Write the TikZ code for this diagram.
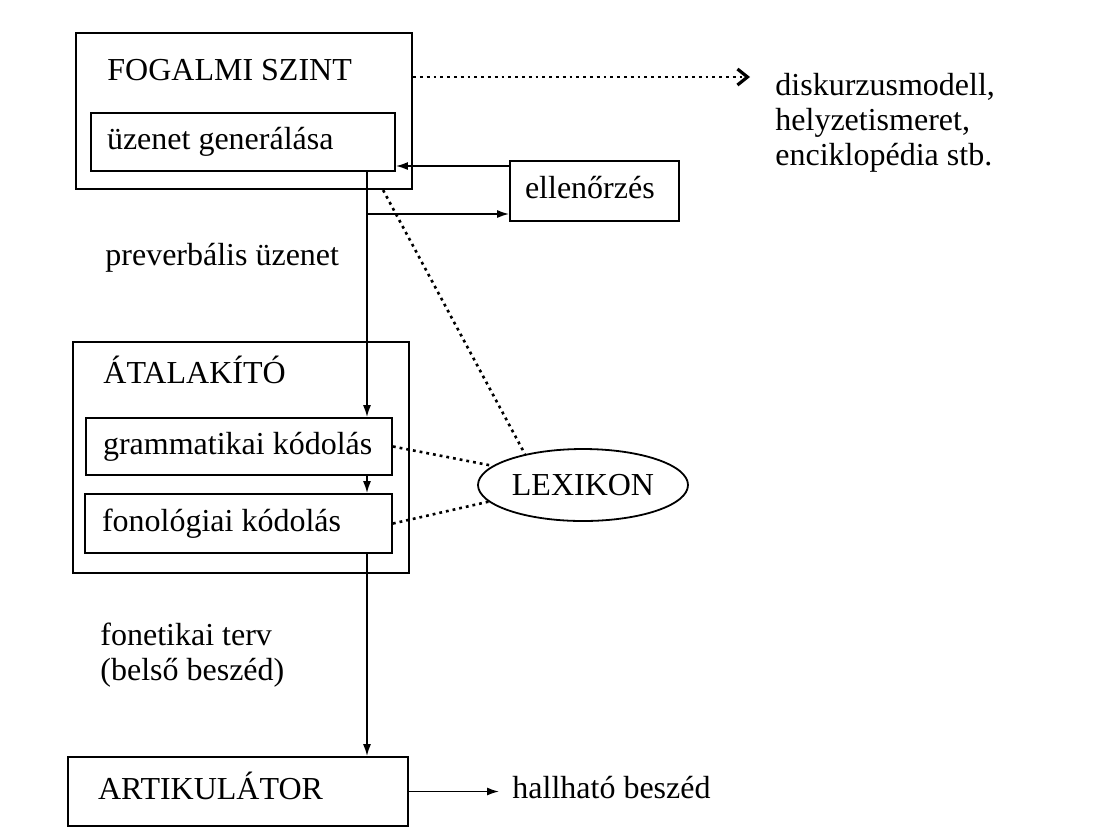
\documentclass[tikz,border=0pt]{standalone}
\usepackage{fontspec}
\setmainfont{Liberation Serif}
\usetikzlibrary{arrows.meta,shapes.geometric}
\begin{document}
\begin{tikzpicture}[x=0.5pt,y=-0.5pt,
    every node/.style={font=\fontsize{16}{17.5}\selectfont},
    keret/.style={draw,line width=1.1pt,rectangle,inner sep=0pt},
    doboz/.style={draw,line width=0.9pt,rectangle,align=flush left,inner ysep=0pt,text height=11pt,text depth=3.5pt},
    felirat/.style={inner sep=0pt,align=flush left},
    nyil/.style={line width=0.8pt,-{Latex[length=6pt,width=4pt]}},
    pontozott/.style={line width=1.3pt,dash pattern=on 1.4pt off 2pt}]
    \useasboundingbox (0,0) rectangle (1107,836);
    % outer frames
    \node[keret,minimum width=168pt,minimum height=78pt] (fog) at (244,111) {};
    \node[keret,minimum width=168pt,minimum height=115.5pt] (atal) at (241,457.5) {};
    \node[felirat,anchor=base west] (fogcim) at (107,80) {FOGALMI SZINT};
    \node[felirat,anchor=base west] (atalcim) at (103,383) {ÁTALAKÍTÓ};
    % boxes
    \node[doboz,minimum width=152pt,minimum height=29pt,inner xsep=8pt,text width=136pt] (gen) at (243,142) {üzenet generálása};
    \node[doboz,minimum width=84.5pt,minimum height=30pt,inner xsep=7.5pt,text width=69.5pt] (ell) at (594.5,191) {ellenőrzés};
    \node[doboz,minimum width=153pt,minimum height=28.5pt,inner xsep=8.5pt,text width=136pt] (gram) at (239,446.5) {grammatikai kódolás};
    \node[doboz,minimum width=153.5pt,minimum height=29.5pt,inner xsep=8.5pt,text width=136.5pt] (fon) at (238.5,523.5) {fonológiai kódolás};
    \node[doboz,minimum width=170pt,minimum height=34.5pt,inner xsep=15pt,text width=140pt] (art) at (238,791.5) {ARTIKULÁTOR};
    \node[draw,ellipse,line width=0.9pt,inner sep=0pt,minimum width=105pt,minimum height=36pt] (lex) at (583,485) {LEXIKON};
    % free texts
    \node[felirat,anchor=base west] (prev) at (105,265) {preverbális üzenet};
    \node[felirat,anchor=north west] (fonterv) at (100,623) {fonetikai terv\\(belső beszéd)};
    \node[felirat,anchor=base west,inner xsep=6.5pt] (hall) at (499,798) {hallható beszéd};
    \node[felirat,anchor=north west,inner xsep=12.5pt] (disk) at (750,73) {diskurzusmodell,\\helyzetismeret,\\enciklopédia stb.};
    % main line
    \coordinate (leg) at (367,0);
    \draw[nyil] (leg |- gen.south) -- (leg |- gram.north);
    \draw[nyil] (leg |- gram.south) -- (leg |- fon.north);
    \draw[nyil] (leg |- fon.south) -- (leg |- art.north);
    \draw[nyil] (art.east) -- (art.east -| hall.west);
    % monitoring loop
    \coordinate (ellki) at ([yshift=-11.5pt]ell.west);
    \coordinate (ellbe) at ([yshift=12.5pt]ell.west);
    \draw[nyil] (ellki -| leg) -- (ellki);
    \draw[nyil] (ellbe) -- (ellbe -| gen.east);
    % dotted links
    \coordinate (fogki) at ([yshift=17pt]fog.east);
    \draw[pontozott,-{Straight Barb[length=5pt,width=8pt,line width=1.6pt]}] (fogki) -- (fogki -| disk.west);
    \draw[pontozott] ([xshift=-15pt]fog.south east) -- (lex.152);
    \draw[pontozott] (gram.east) -- (lex.168);
    \draw[pontozott] (fon.east) -- (lex.190);
\end{tikzpicture}
\end{document}
